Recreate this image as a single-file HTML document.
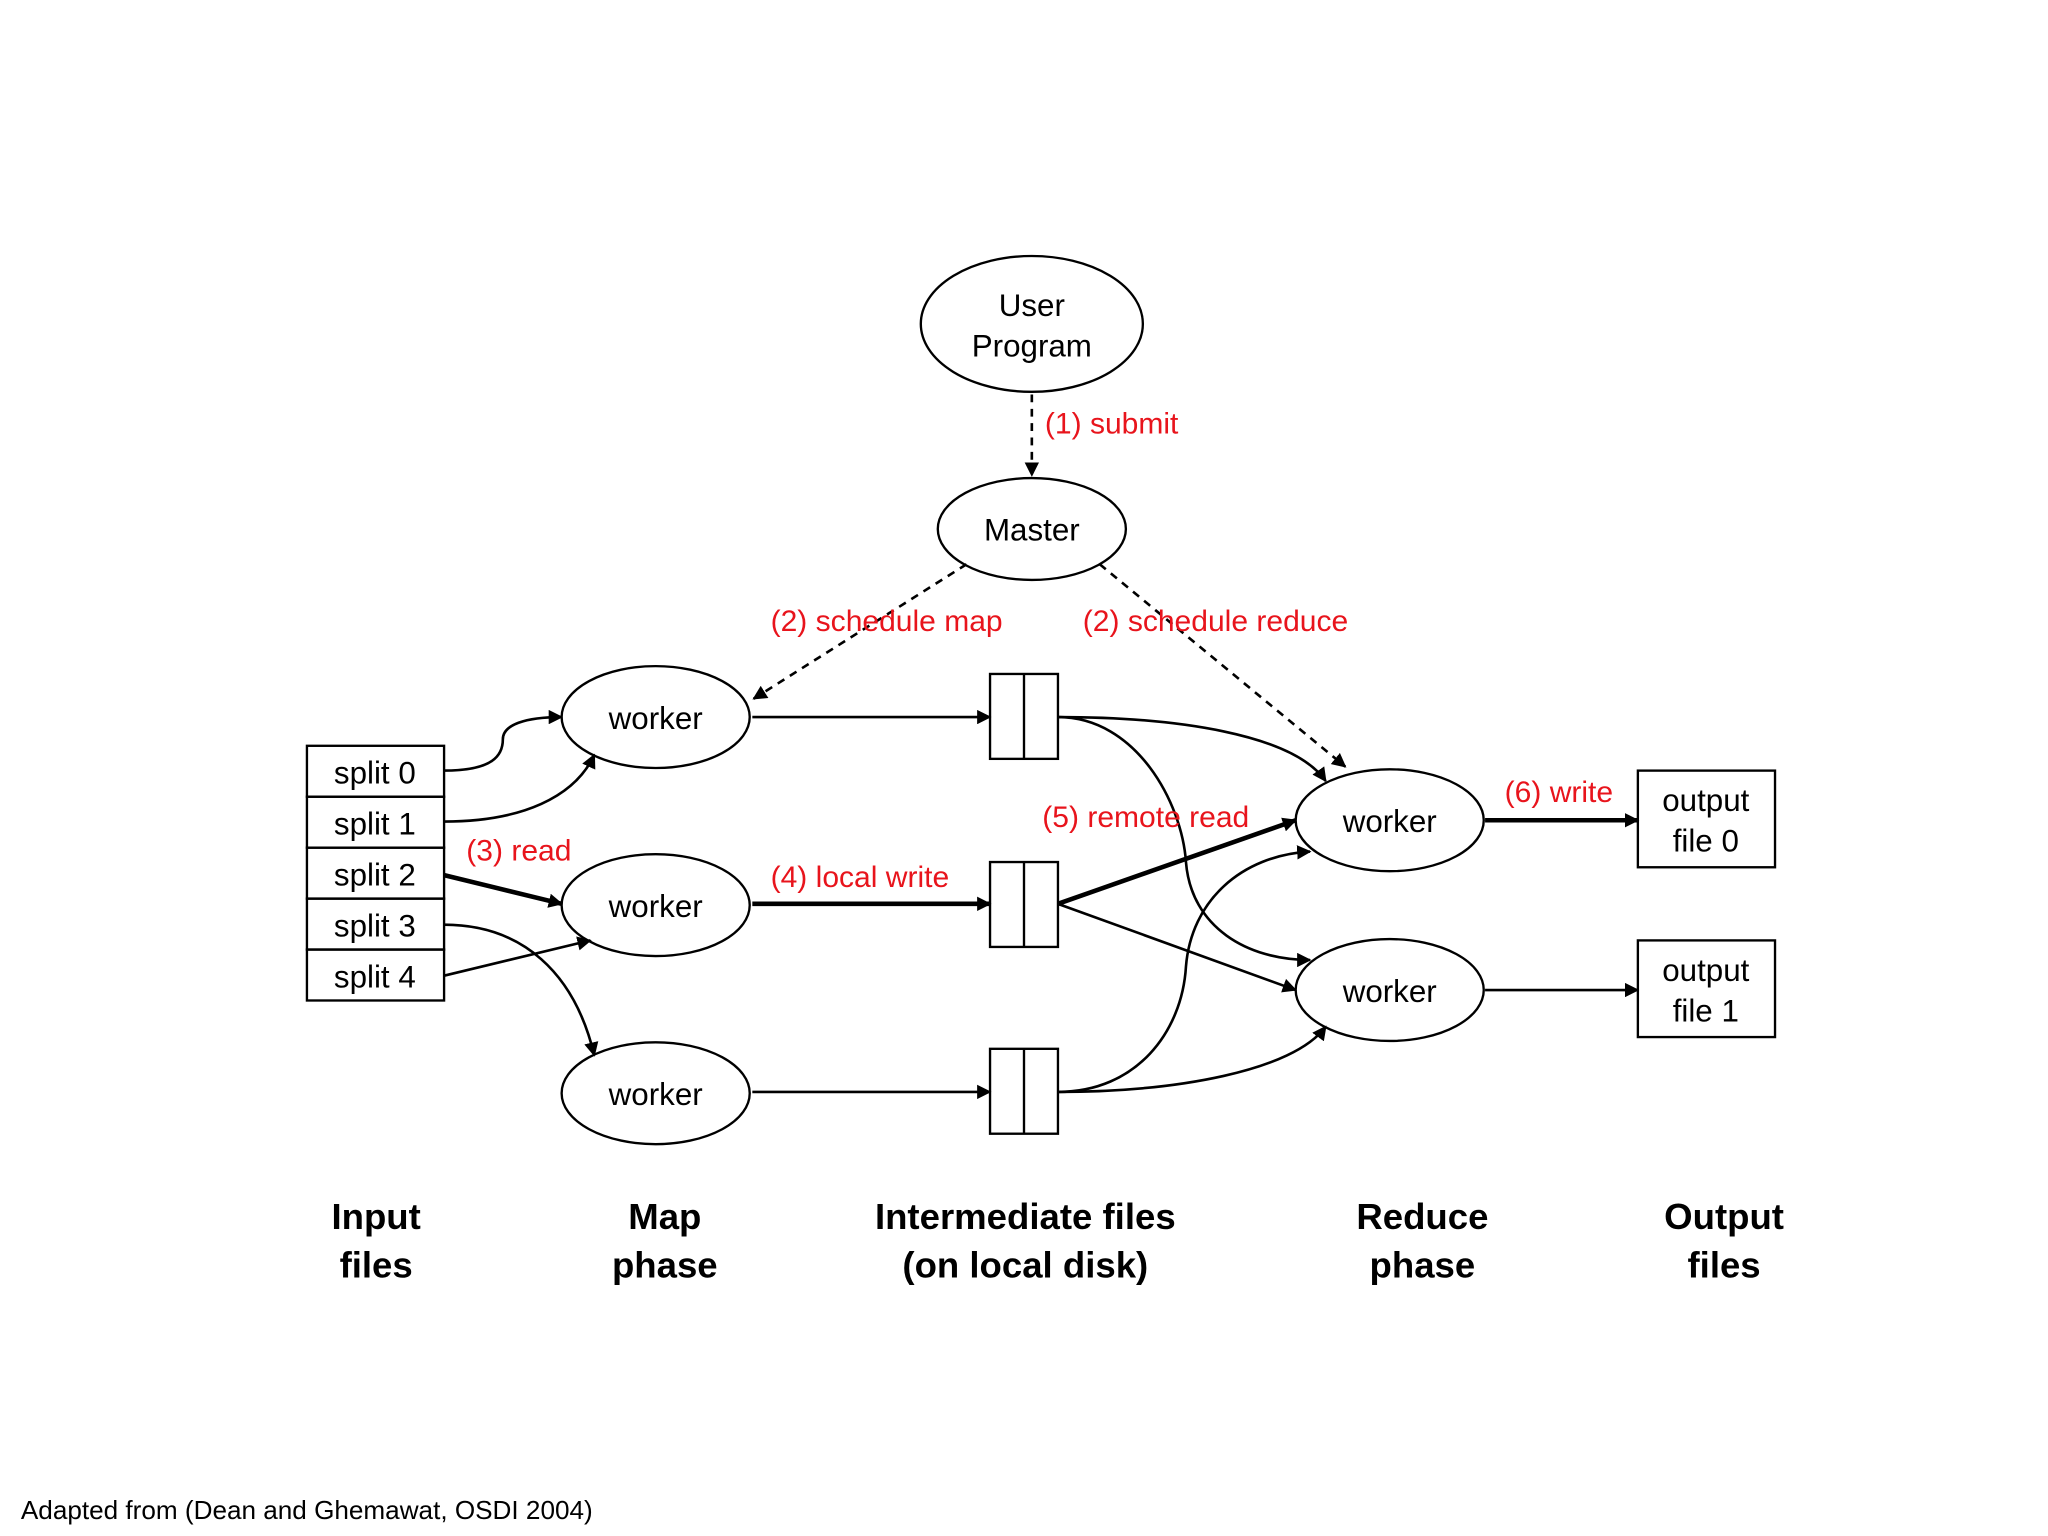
<!DOCTYPE html>
<html><head><meta charset="utf-8"><style>
html,body{margin:0;padding:0;background:#fff;}
svg{display:block;}
text{font-family:"Liberation Sans",Arial,sans-serif;}
</style></head><body>
<svg width="2048" height="1536" viewBox="0 0 1568 1176" xmlns="http://www.w3.org/2000/svg">
<defs>
<marker id="a" viewBox="0 0 10 10" refX="9" refY="5" markerWidth="11" markerHeight="11" markerUnits="userSpaceOnUse" orient="auto"><path d="M0,0 L10,5 L0,10 z" fill="#000"/></marker>
</defs>
<rect width="1568" height="1176" fill="#fff"/>
<g fill="none" stroke="#000" stroke-width="1.8">
<ellipse cx="790" cy="248" rx="85" ry="52"/>
<ellipse cx="790" cy="405" rx="72" ry="39"/>
<ellipse cx="502" cy="549" rx="72" ry="39"/>
<ellipse cx="502" cy="693" rx="72" ry="39"/>
<ellipse cx="502" cy="837" rx="72" ry="39"/>
<ellipse cx="1064" cy="628" rx="72" ry="39"/>
<ellipse cx="1064" cy="758" rx="72" ry="39"/>
<rect x="235" y="571" width="105" height="39"/>
<rect x="235" y="610" width="105" height="39"/>
<rect x="235" y="649" width="105" height="39"/>
<rect x="235" y="688" width="105" height="39"/>
<rect x="235" y="727" width="105" height="39"/>
<rect x="758" y="516" width="52" height="65"/><line x1="784" y1="516" x2="784" y2="581"/>
<rect x="758" y="660" width="52" height="65"/><line x1="784" y1="660" x2="784" y2="725"/>
<rect x="758" y="803" width="52" height="65"/><line x1="784" y1="803" x2="784" y2="868"/>
<rect x="1254" y="590" width="105" height="74"/>
<rect x="1254" y="720" width="105" height="74"/>
</g>
<g fill="none" stroke="#000" stroke-width="2" marker-end="url(#a)">
<path d="M790 302 L790 364" stroke-dasharray="6,5"/>
<path d="M740 432 L577 535" stroke-dasharray="6,5"/>
<path d="M842 432 L1030 587" stroke-dasharray="6,5"/>
<path d="M340 590 C378 590 385 578 385 566 C385 555 402 549 430 549"/>
<path d="M340 629 C400 629 440 610 455 578"/>
<path d="M340 670 L430 692" stroke-width="3.5"/>
<path d="M340 708 C400 708 440 745 455 808"/>
<path d="M340 747 L452 720"/>
<path d="M576 549 L758 549"/>
<path d="M576 692 L758 692" stroke-width="3.5"/>
<path d="M576 836 L758 836"/>
<path d="M810 549 C900 549 990 562 1015 598"/>
<path d="M810 549 C870 549 905 615 908 660 C912 710 955 735 1003 735"/>
<path d="M810 692 L992 628" stroke-width="3.5"/>
<path d="M810 692 L992 758"/>
<path d="M810 836 C870 836 905 790 908 740 C912 690 950 655 1003 652"/>
<path d="M810 836 C900 836 990 820 1015 786"/>
<path d="M1137 628 L1254 628" stroke-width="3.5"/>
<path d="M1137 758 L1254 758"/>
</g>
<g font-size="24" fill="#000" text-anchor="middle">
<text x="790" y="242">User</text><text x="790" y="273">Program</text>
<text x="790" y="414">Master</text>
<text x="502" y="558">worker</text><text x="502" y="702">worker</text><text x="502" y="846">worker</text>
<text x="1064" y="637">worker</text><text x="1064" y="767">worker</text>
<text x="287" y="600">split 0</text><text x="287" y="639">split 1</text><text x="287" y="678">split 2</text><text x="287" y="717">split 3</text><text x="287" y="756">split 4</text>
<text x="1306" y="621">output</text><text x="1306" y="652">file 0</text>
<text x="1306" y="751">output</text><text x="1306" y="782">file 1</text>
</g>
<g font-size="23" fill="#e8141c">
<text x="800" y="332">(1) submit</text>
<text x="590" y="483">(2) schedule map</text>
<text x="829" y="483">(2) schedule reduce</text>
<text x="357" y="659">(3) read</text>
<text x="590" y="679">(4) local write</text>
<text x="798" y="633">(5) remote read</text>
<text x="1152" y="614">(6) write</text>
</g>
<g font-size="28" font-weight="bold" fill="#000" text-anchor="middle">
<text x="288" y="941">Input</text><text x="288" y="978">files</text>
<text x="509" y="941">Map</text><text x="509" y="978">phase</text>
<text x="785" y="941">Intermediate files</text><text x="785" y="978">(on local disk)</text>
<text x="1089" y="941">Reduce</text><text x="1089" y="978">phase</text>
<text x="1320" y="941">Output</text><text x="1320" y="978">files</text>
</g>
<text x="16" y="1163" font-size="20" fill="#000">Adapted from (Dean and Ghemawat, OSDI 2004)</text>
</svg>
</body></html>
